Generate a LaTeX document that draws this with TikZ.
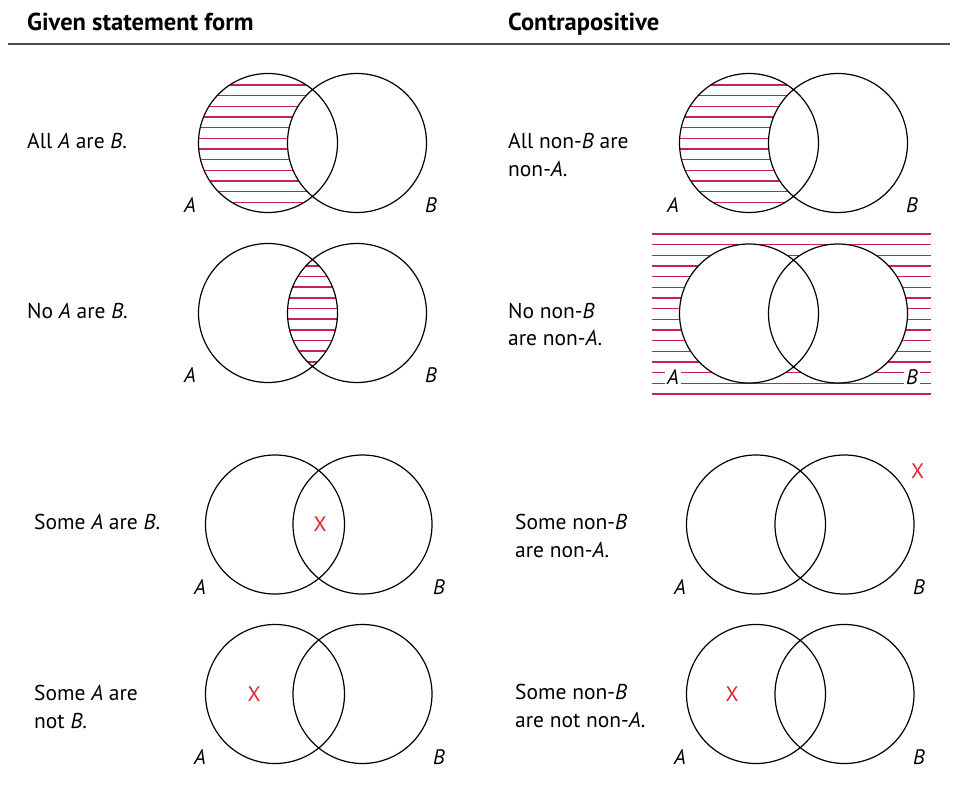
\documentclass[tikz,border=0pt]{standalone}
\usepackage{fontspec}
\setmainfont{PT Sans}
\definecolor{hatch}{RGB}{200,30,90}
\definecolor{xred}{RGB}{225,35,45}
\begin{document}
\begin{tikzpicture}[x=1pt,y=-1pt,
  venn/.style={line width=1.2pt},
  hline/.style={hatch, line width=1.6pt},
  lbl/.style={font=\fontsize{21}{24}\selectfont\itshape, inner sep=0pt},
  stmt/.style={font=\fontsize{21.5}{24}\selectfont, anchor=base west, inner sep=0pt},
  head/.style={font=\fontsize{24.5}{28}\selectfont\bfseries, anchor=base west, inner sep=0pt},
  xmark/.style={text=xred, font=\fontsize{21}{24}\selectfont, inner sep=0pt}]
\useasboundingbox (0,0) rectangle (958,785);
\def\R{69.5}
% hatch lines: #1 first y, #2 count-1, #3 x from, #4 x to
\newcommand\hatchlines[4]{%
  \foreach \k in {0,...,#2}{%
    \pgfmathsetmacro\yy{#1+10.667*\k}%
    \draw[hline] (#3,\yy) -- (#4,\yy);}}
% headers
\node[head] (h1) at (27,30) {Given statement form};
\node[head] (h2) at (508,30) {Contrapositive};
\coordinate (r1) at (8,44);
\coordinate (r2) at (950,44);
\draw[line width=1.2pt, black!70] (r1) -- (r2);

% ---------- Row 1 left: All A are B
\coordinate (a1) at (268,143);
\coordinate (b1) at (357,143);
\begin{scope}
  \clip (a1) circle (\R);
  \hatchlines{85}{11}{190}{350}
  \fill[white] (b1) circle (\R);
\end{scope}
\draw[venn] (a1) circle (\R) (b1) circle (\R);
\node[lbl] (la1) at (190,205) {A};
\node[lbl] (lb1) at (431,205) {B};
\node[stmt] (s1) at (27,148) {All \textit{A} are \textit{B}.};

% ---------- Row 1 right
\coordinate (a2) at (749,143);
\coordinate (b2) at (838,143);
\begin{scope}
  \clip (a2) circle (\R);
  \hatchlines{85}{11}{670}{830}
  \fill[white] (b2) circle (\R);
\end{scope}
\draw[venn] (a2) circle (\R) (b2) circle (\R);
\node[lbl] (la2) at (673,205) {A};
\node[lbl] (lb2) at (912,205) {B};
\node[stmt] (s2a) at (508,148) {All non-\textit{B} are};
\node[stmt] (s2b) at (508,176) {non-\textit{A}.};

% ---------- Row 2 left: No A are B
\coordinate (a3) at (268,313);
\coordinate (b3) at (357,313);
\begin{scope}
  \clip (a3) circle (\R);
  \clip (b3) circle (\R);
  \hatchlines{265.7}{9}{280}{350}
\end{scope}
\draw[venn] (a3) circle (\R) (b3) circle (\R);
\node[lbl] (la3) at (190,375) {A};
\node[lbl] (lb3) at (431,375) {B};
\node[stmt] (s3) at (27,318) {No \textit{A} are \textit{B}.};

% ---------- Row 2 right
\coordinate (a4) at (749,313.5);
\coordinate (b4) at (838,313.5);
\hatchlines{234}{15}{652}{931}
\fill[white] (a4) circle (\R) (b4) circle (\R);
\draw[venn] (a4) circle (\R) (b4) circle (\R);
\node[lbl, fill=white, inner sep=2pt] (la4) at (673,377) {A};
\node[lbl, fill=white, inner sep=2pt] (lb4) at (912,377) {B};
\node[stmt] (s4a) at (508,318) {No non-\textit{B}};
\node[stmt] (s4b) at (508,345) {are non-\textit{A}.};

% ---------- Row 3 left: Some A are B
\coordinate (a5) at (275,524.5);
\coordinate (b5) at (362.5,524.5);
\draw[venn] (a5) circle (\R) (b5) circle (\R);
\node[xmark] (x5) at (320,524) {X};
\node[lbl] (la5) at (200,587) {A};
\node[lbl] (lb5) at (439,587) {B};
\node[stmt] (s5) at (34,529) {Some \textit{A} are \textit{B}.};

% ---------- Row 3 right
\coordinate (a6) at (756,524.5);
\coordinate (b6) at (844.5,524.5);
\draw[venn] (a6) circle (\R) (b6) circle (\R);
\node[xmark] (x6) at (917.5,471.5) {X};
\node[lbl] (la6) at (680,587) {A};
\node[lbl] (lb6) at (919,587) {B};
\node[stmt] (s6a) at (515,529) {Some non-\textit{B}};
\node[stmt] (s6b) at (515,557) {are non-\textit{A}.};

% ---------- Row 4 left: Some A are not B
\coordinate (a7) at (275,694);
\coordinate (b7) at (362.5,694);
\draw[venn] (a7) circle (\R) (b7) circle (\R);
\node[xmark] (x7) at (254,694) {X};
\node[lbl] (la7) at (200,757) {A};
\node[lbl] (lb7) at (439,757) {B};
\node[stmt] (s7a) at (34,700) {Some \textit{A} are};
\node[stmt] (s7b) at (34,728) {not \textit{B}.};

% ---------- Row 4 right
\coordinate (a8) at (756,694);
\coordinate (b8) at (844.5,694);
\draw[venn] (a8) circle (\R) (b8) circle (\R);
\node[xmark] (x8) at (732,694) {X};
\node[lbl] (la8) at (680,757) {A};
\node[lbl] (lb8) at (919,757) {B};
\node[stmt] (s8a) at (515,699) {Some non-\textit{B}};
\node[stmt] (s8b) at (515,727) {are not non-\textit{A}.};
\end{tikzpicture}
\end{document}
